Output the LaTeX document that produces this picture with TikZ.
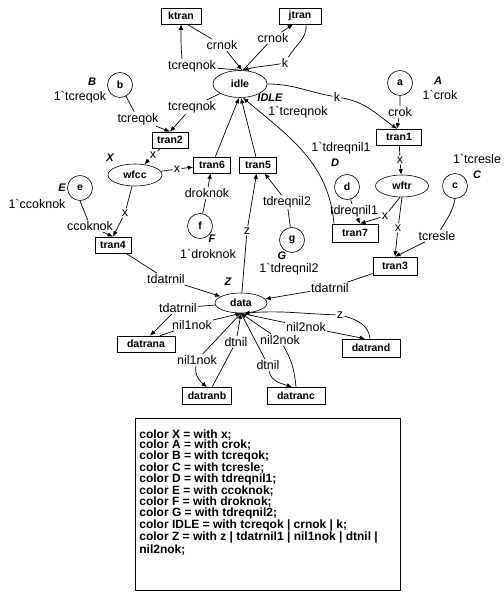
\documentclass[tikz,border=0pt]{standalone}
\usepackage{fontspec}
\setmainfont{Liberation Sans}
\usetikzlibrary{arrows.meta,shapes.geometric}
\begin{document}
\begin{tikzpicture}[x=1pt,y=-1pt,line width=0.7pt,
  arr/.style={-{Latex[length=5.5pt,width=4.5pt]}},
  lab/.style={inner sep=1pt,font=\fontsize{12.5}{12.5}\selectfont},
  mk/.style={inner sep=0pt,font=\fontsize{12.5}{12.5}\selectfont},
  cl/.style={inner sep=0pt,font=\fontsize{11}{11}\selectfont\bfseries\itshape},
  trans/.style={draw,rectangle,line width=0.6pt,inner sep=1pt,minimum height=16pt,font=\fontsize{10.5}{10.5}\selectfont\bfseries},
  place/.style={draw,ellipse,line width=0.6pt,inner sep=0pt,font=\fontsize{10.5}{10.5}\selectfont\bfseries},
  cplace/.style={draw,circle,line width=0.6pt,minimum size=25pt,inner sep=0pt,font=\fontsize{10.5}{10.5}\selectfont\bfseries},
  codebox/.style={draw,rectangle,line width=0.6pt,minimum width=265pt,minimum height=172pt,inner sep=0pt},
  codetext/.style={inner sep=0pt,align=left,font=\fontsize{12}{10.8}\selectfont\bfseries}
]
\useasboundingbox (0,0) rectangle (503,596);

% places
\node[place,minimum width=54pt,minimum height=27pt] (idle) at (240,84) {idle};
\node[place,minimum width=54pt,minimum height=22pt] (wfcc) at (135,175) {wfcc};
\node[place,minimum width=53pt,minimum height=22pt] (wftr) at (402,186) {wftr};
\node[place,minimum width=52pt,minimum height=20pt] (data) at (241,303) {data};
\node[cplace] (b) at (120,85) {b};
\node[cplace] (a) at (400,83) {a};
\node[cplace] (e) at (80,188) {e};
\node[cplace] (f) at (200,226) {f};
\node[cplace] (g) at (292,240) {g};
\node[cplace] (d) at (347,187) {d};
\node[cplace] (c) at (455,186) {c};

% transitions
\node[trans,minimum width=40pt] (ktran) at (181,16) {ktran};
\node[trans,minimum width=42pt] (jtran) at (300,16) {jtran};
\node[trans,minimum width=36pt] (tran2) at (170,140) {tran2};
\node[trans,minimum width=37pt] (tran6) at (212,165) {tran6};
\node[trans,minimum width=37pt] (tran5) at (258,165) {tran5};
\node[trans,minimum width=45pt] (tran1) at (399,137) {tran1};
\node[trans,minimum width=46pt,minimum height=18pt] (tran7) at (355,233) {tran7};
\node[trans,minimum width=44pt,minimum height=18pt] (tran3) at (395,266) {tran3};
\node[trans,minimum width=36pt] (tran4) at (113,245) {tran4};
\node[trans,minimum width=58pt] (datrana) at (146,344) {datrana};
\node[trans,minimum width=49pt,minimum height=17pt] (datranb) at (207,396) {datranb};
\node[trans,minimum width=58pt,minimum height=17pt] (datranc) at (296,396) {datranc};
\node[trans,minimum width=58pt,minimum height=18pt] (datrand) at (371,348) {datrand};

% colour set labels and initial markings
\node[cl] (Bc) at (92,82) {B};
\node[mk] (Bm) at (80,97) {1\textasciigrave tcreqok};
\node[cl] (Ac) at (438,81) {A};
\node[mk] (Am) at (440,95) {1\textasciigrave crok};
\node[cl] (IDLEc) at (270,98) {IDLE};
\node[mk] (IDLEm) at (298,112) {1\textasciigrave tcreqnok};
\node[cl] (Xc) at (110,158) {X};
\node[cl] (Ec) at (62,188) {E};
\node[mk] (Em) at (37,204) {1\textasciigrave ccoknok};
\node[cl] (Fc) at (212,239) {F};
\node[mk] (Fm) at (208,254) {1\textasciigrave droknok};
\node[cl] (Gc) at (282,256) {G};
\node[mk] (Gm) at (289,269) {1\textasciigrave tdreqnil2};
\node[cl] (Dc) at (335,163) {D};
\node[mk] (Dm) at (341,148) {1\textasciigrave tdreqnil1};
\node[cl] (Cc) at (477,175) {C};
\node[mk] (Cm) at (477,159) {1\textasciigrave tcresle};
\node[cl] (Zc) at (228,282) {Z};

% arc inscriptions
\node[lab] (L1) at (192,66) {tcreqnok};
\node[lab] (L2) at (222,45) {crnok};
\node[lab] (L3) at (273,38) {crnok};
\node[lab] (L4) at (285,63) {k};
\node[lab] (L5) at (337,97) {k};
\node[lab] (L6) at (192,107) {tcreqnok};
\node[lab] (L7) at (138,119) {tcreqok};
\node[lab] (L8) at (153,155) {x};
\node[lab] (L9) at (177,169) {x};
\node[lab] (L13) at (400,112) {crok};
\node[lab] (L14) at (400,160) {x};
\node[lab] (L15) at (354,211) {tdreqnil1};
\node[lab] (L16) at (385,216) {x};
\node[lab] (L17) at (398,228) {x};
\node[lab] (L18) at (437,236) {tcresle};
\node[lab] (L19) at (330,288) {tdatrnil};
\node[lab] (L20) at (125,213) {x};
\node[lab] (L21) at (90,226) {ccoknok};
\node[lab] (L22) at (207,193) {droknok};
\node[lab] (L23) at (287,202) {tdreqnil2};
\node[lab] (L24) at (247,231) {z};
\node[lab] (L25) at (166,279) {tdatrnil};
\node[lab] (L26) at (178,308) {tdatrnil};
\node[lab] (L27) at (192,325) {nil1nok};
\node[lab] (L28) at (197,360) {nil1nok};
\node[lab] (L29) at (236,342) {dtnil};
\node[lab] (L30) at (268,365) {dtnil};
\node[lab] (L31) at (280,340) {nil2nok};
\node[lab] (L32) at (306,327) {nil2nok};
\node[lab] (L33) at (340,315) {z};

% arcs around idle
\draw[arr] (idle.north) -- (L1) ([xshift=-10pt]L1.north) to[out=95,in=-90] (ktran.south);
\draw[arr] ([xshift=6pt]ktran.south) -- (L2) -- ([xshift=2pt]idle.north);
\draw[arr] ([xshift=3pt]idle.north) -- (L3) -- ([xshift=-7pt]jtran.south);
\draw[arr] ([xshift=6pt]jtran.south) to[out=-85,in=60] (L4) to[out=190,in=15] ([xshift=3pt]idle.north);
\draw[arr] (idle.east) to[out=0,in=170] (L5) to[out=-10,in=145] ([xshift=-2pt]tran1.north);
\draw[arr] (idle) -- (L6) -- (tran2.north);
\draw[arr] (b) -- (L7) -- (tran2.north);
\draw[arr] (tran2) -- (L8) -- (wfcc);
\draw[arr] (wfcc) -- (L9) -- (tran6);
\draw[arr] (tran6) -- ([xshift=-1pt]idle.south);
\draw[arr] (tran5) -- ([xshift=1pt]idle.south);
\draw[arr] ([xshift=-21pt]tran7.north) to[out=95,in=-40] ([xshift=3pt]idle.south);

% right part
\draw[arr] (a) -- (L13) -- ([xshift=-2pt]tran1.north);
\draw[arr] (tran1) -- (L14) -- (wftr);
\draw[arr] (d) -- (L15) -- ([xshift=5pt]tran7.north);
\draw[arr] ([xshift=-2pt]wftr.south) -- (L16) -- ([xshift=5pt]tran7.north);
\draw[arr] (wftr.south) -- (L17) -- (tran3.north);
\draw[arr] (c.south) to[out=-100,in=60] (L18) -- (tran3.north);
\draw[arr] (tran3) -- (L19) -- (data);

% left part
\draw[arr] (wfcc) -- (L20) -- (tran4.north);
\draw[arr] (e.south) -- (L21) -- (tran4.north);
\draw[arr] (f) -- (L22) -- (tran6);
\draw[arr] (g) -- (L23) -- (tran5);
\draw[arr] (data) -- (L24) -- (tran5);
\draw[arr] (tran4) -- (L25) -- (data);

% arcs below data
\draw[arr] (data) -- (L26) -- ([xshift=4pt]datrana.north);
\draw[arr] ([xshift=14pt]datrana.north) -- (L27) -- (data.south);
\draw[arr] (data.south) -- (L28) to[out=-100,in=140] (datranb.north);
\draw[arr] ([xshift=5pt]datranb.north) -- (L29) -- (data.south);
\draw[arr] (data.south) -- (L30) to[out=-80,in=160] ([xshift=-4pt]datranc.north);
\draw[arr] (datranc.north) to[out=95,in=-60] (L31) -- (data.south);
\draw[arr] (data.south) -- (L32) -- ([xshift=-6pt]datrand.north);
\draw[arr] ([xshift=-1pt]datrand.north) to[out=95,in=-15] (L33) to[out=178,in=5] ([xshift=3pt]data.south);

% declarations
\node[codebox,anchor=north west] (cb) at (135,418) {};
\node[codetext,anchor=north west] (code) at ([xshift=4pt,yshift=-11pt]cb.north west) {%
color X = with x;\\
color A = with crok;\\
color B = with tcreqok;\\
color C = with tcresle;\\
color D = with tdreqnil1;\\
color E = with ccoknok;\\
color F = with droknok;\\
color G = with tdreqnil2;\\
color IDLE = with tcreqok \textbar{} crnok \textbar{} k;\\
color Z = with z \textbar{} tdatrnil1 \textbar{} nil1nok \textbar{} dtnil \textbar{}\\
nil2nok;};
\end{tikzpicture}
\end{document}
